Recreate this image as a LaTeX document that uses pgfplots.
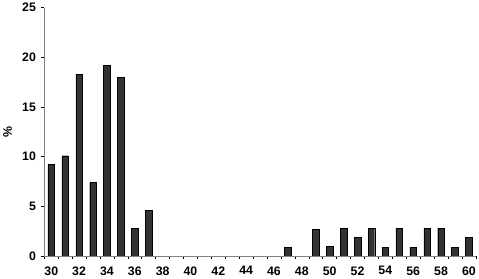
\documentclass[border=0pt]{standalone}
\usepackage{fontspec}
\setmainfont{Liberation Sans}
\usepackage{pgfplots}
\pgfplotsset{compat=1.18}
\definecolor{barfill}{HTML}{333333}
\definecolor{axgray}{HTML}{808080}
\begin{document}
\begin{tikzpicture}
\begin{axis}[
  scale only axis,
  width=436bp, height=251bp,
  xmin=29.5, xmax=60.5,
  ymin=0, ymax=25,
  ytick={0,5,10,15,20,25},
  xtick={30,32,...,60},
  minor xtick={29.5,30.5,...,60.5},
  major x tick style={draw=none},
  minor tick length=3bp,
  major tick length=3bp,
  tick align=outside,
  axis on top,
  axis x line*=bottom,
  axis y line*=left,
  axis line style={axgray, line width=0.8pt},
  every tick/.style={black, line width=0.5pt},
  minor x tick style={black, line width=0.5pt},
  tick label style={font=\fontsize{12.5}{14}\selectfont\bfseries},
  /pgf/number format/assume math mode=true,
  ylabel={\%},
  ylabel style={font=\fontsize{12.5}{14}\selectfont\bfseries, at={(axis description cs:-0.085,0.5)}, anchor=center},
  yticklabel style={xshift=-2bp},
  xticklabel style={yshift=-4bp},
  ybar, bar width=6.7bp,
  clip=false,
]
\addplot[fill=barfill, draw=black, line width=0.4pt] coordinates {
(30,9.2) (31,10.1) (32,18.3) (33,7.4) (34,19.2) (35,18.0) (36,2.8) (37,4.6)
(38,0) (39,0) (40,0) (41,0) (42,0) (43,0) (44,0) (45,0) (46,0)
(47,0.9) (48,0) (49,2.7) (50,1.0) (51,2.8) (52,1.9) (53,2.8) (54,0.9)
(55,2.8) (56,0.9) (57,2.8) (58,2.8) (59,0.9) (60,1.9)
};
\end{axis}
\end{tikzpicture}
\end{document}
